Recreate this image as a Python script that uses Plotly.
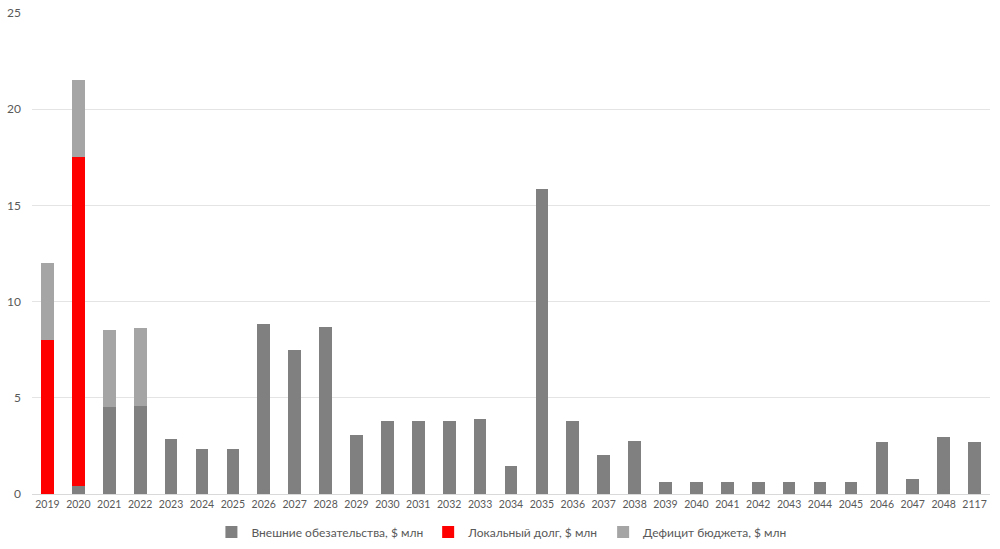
import plotly.graph_objects as go

years = ["2019", "2020", "2021", "2022", "2023", "2024", "2025", "2026", "2027", "2028",
         "2029", "2030", "2031", "2032", "2033", "2034", "2035", "2036", "2037", "2038",
         "2039", "2040", "2041", "2042", "2043", "2044", "2045", "2046", "2047", "2048", "2117"]

external = [0, 0.4, 4.5, 4.6, 2.85, 2.35, 2.35, 8.85, 7.5, 8.7,
            3.07, 3.8, 3.8, 3.8, 3.9, 1.45, 15.85, 3.8, 2.03, 2.75,
            0.6, 0.6, 0.6, 0.6, 0.6, 0.6, 0.6, 2.7, 0.8, 2.98, 2.7]
local_debt = [8.0, 17.1] + [0] * 29
deficit = [4.0, 4.0, 4.0, 4.05] + [0] * 27

names = ["Внешние обезательства, $ млн", "Локальный долг, $ млн", "Дефицит бюджета, $ млн"]
colors = ["#808080", "#FF0000", "#A5A5A5"]

fig = go.Figure()
for name, vals, col in zip(names, [external, local_debt, deficit], colors):
    fig.add_trace(go.Bar(x=years, y=vals, name=name, marker=dict(color=col, line=dict(width=0))))

fig.update_layout(
    barmode="stack",
    bargap=0.59,
    width=1000, height=549,
    margin=dict(l=32, r=10, t=13, b=55, autoexpand=False),
    plot_bgcolor="white", paper_bgcolor="white",
    font=dict(family="Lato, Open Sans, sans-serif", size=11, color="#595959"),
    legend=dict(orientation="h", x=0.49, xanchor="center", yref="container", y=0.031, yanchor="middle",
                font=dict(size=12, color="#595959"), traceorder="normal", itemwidth=30),
    xaxis=dict(type="category", showgrid=False, showline=True, linecolor="#D9D9D9",
               ticks="", tickfont=dict(size=10.5, color="#595959")),
    yaxis=dict(range=[0, 25], dtick=5, showgrid=True, gridcolor="#E4E4E4",
               zeroline=False, showline=False, tickfont=dict(size=12, color="#595959"),
               ticklabelstandoff=10),
    hovermode=False,
)

fig.write_html("out.html")
